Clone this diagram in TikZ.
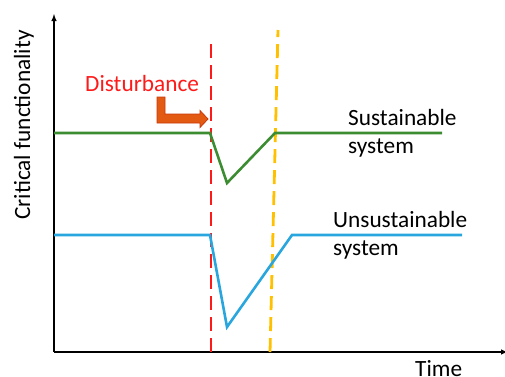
\documentclass[tikz,border=0pt]{standalone}
\usepackage{fontspec}
\setmainfont{Carlito}
\begin{document}
\begin{tikzpicture}[x=1pt,y=-1pt,
  lbl/.style={inner sep=0pt,anchor=base west,font=\fontsize{23.3}{28}\selectfont},
  axisline/.style={line width=1.4pt,black},
  curve/.style={line width=2.6pt,line join=miter},
  vdash/.style={line width=2.8pt,dash pattern=on 14pt off 7pt}]
\definecolor{sgreen}{HTML}{3C8C32}
\definecolor{ublue}{HTML}{2AA6DE}
\definecolor{dred}{HTML}{FF1A1A}
\definecolor{dyellow}{HTML}{FFC000}
\definecolor{afill}{HTML}{E35B12}
\definecolor{aedge}{HTML}{C8380A}
\useasboundingbox (0,0) rectangle (505,376);
% axes
\coordinate (o) at (54,352);
\coordinate (ytop) at (54,14);
\coordinate (xend) at (508,352);
\draw[axisline,-latex] (o) -- (ytop);
\draw[axisline,-latex] (o) -- (xend);
% dashed lines
\coordinate (r1) at (211,40);
\coordinate (r2) at (211,352);
\coordinate (y1) at (278,30);
\coordinate (y2) at (270,352);
\draw[vdash,dred] (r2) -- (r1);
\draw[vdash,dyellow] (y2) -- (y1);
% sustainable system
\draw[curve,sgreen] (54,133) -- (210,133) -- (227,183) -- (275,133) -- (442,133);
% unsustainable system
\draw[curve,ublue] (54,235) -- (210,235) -- (227,327) -- (292,235) -- (462,235);
% disturbance arrow
\draw[fill=afill,draw=aedge,line width=0.8pt,line join=miter]
  (157,97) -- (165,97) -- (165,114) -- (200,114) -- (200,110.5) -- (208,119)
  -- (200,127.5) -- (200,123) -- (157,123) -- cycle;
% labels
\node[lbl,text=dred] (dist) at (85,91) {Disturbance};
\node[lbl] (s1) at (348,125) {Sustainable};
\node[lbl] (s2) at (348,153) {system};
\node[lbl] (u1) at (333,227) {Unsustainable};
\node[lbl] (u2) at (333,255) {system};
\node[lbl] (time) at (415,376) {Time};
\node[lbl,rotate=90] (ylab) at (30,220) {Critical functionality};
\end{tikzpicture}
\end{document}
